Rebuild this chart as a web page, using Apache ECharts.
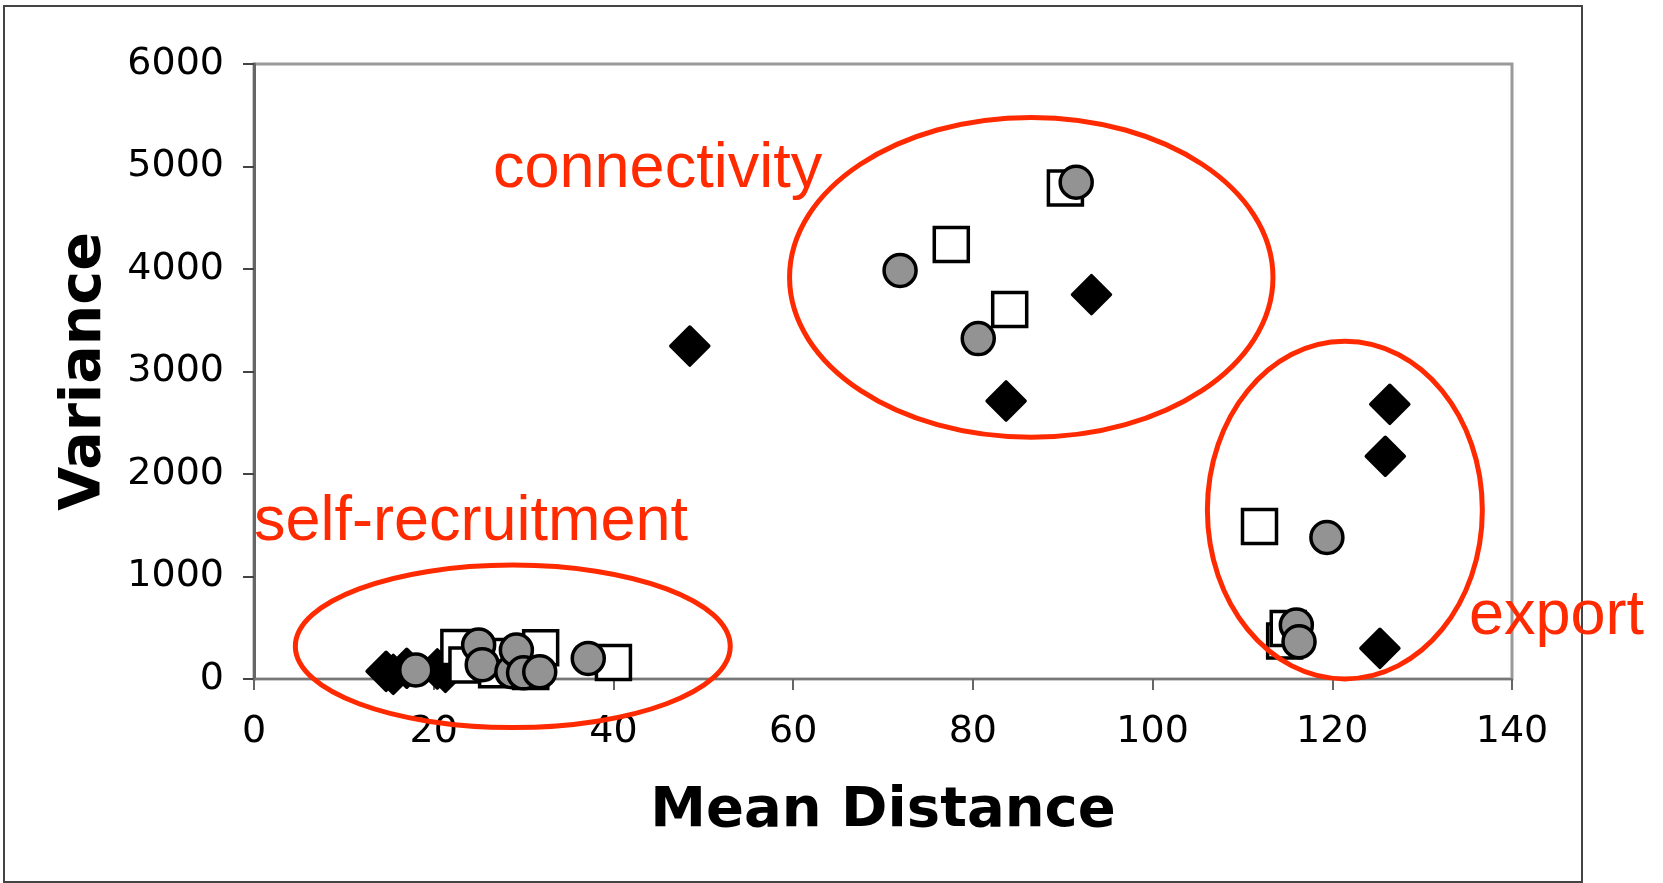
<!DOCTYPE html>
<html>
<head>
<meta charset="utf-8">
<script src="https://cdn.jsdelivr.net/npm/echarts@6/dist/echarts.min.js"></script>
<style>
  html, body { margin: 0; padding: 0; background: #fff; }
  #main { width: 1663px; height: 883px; }
</style>
</head>
<body>
<div id="main"></div>
<script>
// three marker groups, [mean distance, variance]
var diamonds = [
  [14.7, 75], [15.5, 45], [17.0, 105], [20.4, 98], [21.3, 65],
  [48.5, 3248], [83.7, 2713], [93.2, 3750],
  [125.3, 299], [125.9, 2173], [126.4, 2680]
];
var squares = [
  [22.8, 307], [23.7, 136], [27.0, 90], [27.8, 220], [30.8, 73], [31.9, 304], [40.0, 161],
  [77.6, 4238], [84.1, 3606], [90.3, 4790],
  [111.9, 1489], [114.7, 370], [115.1, 492]
];
var circles = [
  [18.0, 88], [25.0, 331], [25.4, 140], [28.7, 71], [29.2, 283], [30.0, 60], [31.8, 71], [37.2, 201],
  [71.9, 3986], [80.6, 3321], [91.5, 4847],
  [116.0, 526], [116.3, 364], [119.4, 1381]
];

// circled groups: centre x, centre y, radius x, radius y (data units)
var groups = [
  [28.8, 319, 24.2, 793],
  [86.5, 3919, 26.9, 1560],
  [121.4, 1648, 15.3, 1647]
];
var groupNames = ['self-recruitment', 'connectivity', 'export'];

var red = '#ff2a00';
var chartDom = document.getElementById('main');
var myChart = echarts.init(chartDom);
var option;

option = {
  animation: false,
  grid: {
    left: 254,
    right: 151,
    top: 64,
    bottom: 204,
    show: true,
    borderColor: '#9a9a9a',
    borderWidth: 3
  },
  xAxis: {
    type: 'value',
    min: 0,
    max: 140,
    interval: 20,
    name: 'Mean Distance',
    nameLocation: 'middle',
    nameGap: 104,
    nameTextStyle: { fontFamily: 'DejaVu Sans', fontWeight: 'bold', fontSize: 56, color: '#000' },
    splitLine: { show: false },
    axisLine: { lineStyle: { color: '#777', width: 2 } },
    axisTick: { length: 11, lineStyle: { color: '#666', width: 2 } },
    axisLabel: { margin: 34, fontFamily: 'DejaVu Sans', fontSize: 38, color: '#000' }
  },
  yAxis: {
    type: 'value',
    min: 0,
    max: 6000,
    interval: 1000,
    name: 'Variance',
    nameLocation: 'middle',
    nameGap: 140,
    nameTextStyle: { fontFamily: 'DejaVu Sans', fontWeight: 'bold', fontSize: 57, color: '#000' },
    splitLine: { show: false },
    axisLine: { show: true, lineStyle: { color: '#666', width: 3 } },
    axisTick: { show: true, length: 11, lineStyle: { color: '#444', width: 2 } },
    axisLabel: {
      margin: 30, fontFamily: 'DejaVu Sans', fontSize: 38, color: '#000',
      formatter: function (v) { return String(v); }
    }
  },
  graphic: [
    {
      type: 'rect',
      shape: { x: 4, y: 6, width: 1578, height: 876 },
      style: { fill: 'none', stroke: '#444', lineWidth: 2 },
      silent: true
    },
    {
      type: 'text', x: 493, y: 170,
      style: { text: groupNames[1], font: '63px "Liberation Sans"', fill: red, verticalAlign: 'middle' },
      z: 10
    },
    {
      type: 'text', x: 254, y: 523,
      style: { text: groupNames[0], font: '63px "Liberation Sans"', fill: red, verticalAlign: 'middle' },
      z: 10
    },
    {
      type: 'text', x: 1469, y: 617,
      style: { text: groupNames[2], font: '63px "Liberation Sans"', fill: red, verticalAlign: 'middle' },
      z: 10
    }
  ],
  series: [
    {
      type: 'scatter',
      symbol: 'diamond',
      symbolSize: 38,
      data: diamonds,
      itemStyle: { color: '#000', borderColor: '#000', borderWidth: 3.5, borderJoin: 'round', opacity: 1 }
    },
    {
      type: 'scatter',
      symbol: 'rect',
      symbolSize: 34,
      data: squares,
      itemStyle: { color: '#fff', borderColor: '#000', borderWidth: 3.5, opacity: 1 }
    },
    {
      type: 'scatter',
      symbol: 'circle',
      symbolSize: 32,
      data: circles,
      itemStyle: { color: '#939393', borderColor: '#000', borderWidth: 3.5, opacity: 1 }
    },
    {
      type: 'custom',
      data: groups,
      z: 5,
      silent: true,
      renderItem: function (params, api) {
        var c = api.coord([api.value(0), api.value(1)]);
        var s = api.size([api.value(2), api.value(3)]);
        return {
          type: 'ellipse',
          shape: { cx: c[0], cy: c[1], rx: s[0], ry: s[1] },
          style: { fill: 'none', stroke: red, lineWidth: 5 }
        };
      }
    }
  ]
};

option && myChart.setOption(option);
</script>
</body>
</html>
